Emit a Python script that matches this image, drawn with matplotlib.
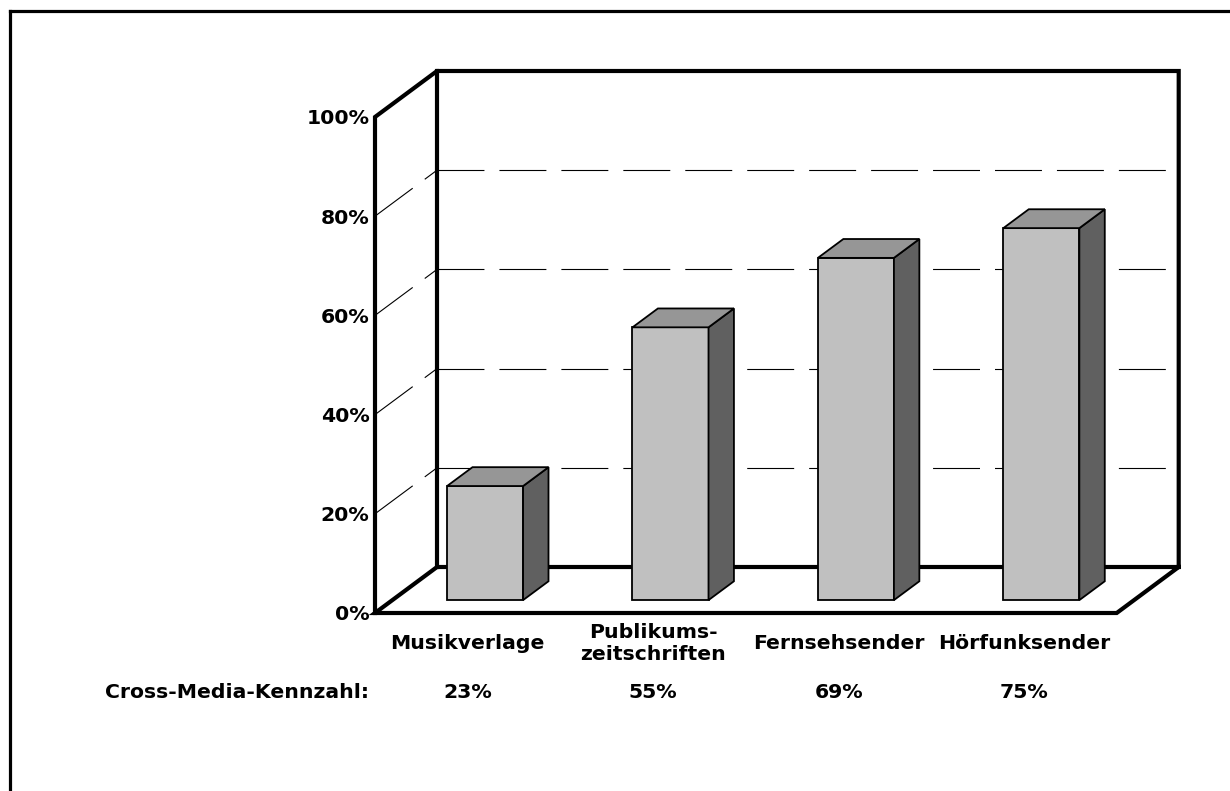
import matplotlib
matplotlib.use('Agg')
import matplotlib.pyplot as plt
from matplotlib.lines import Line2D
from matplotlib.patches import Polygon

# data
categories = ['Musikverlage', 'Publikums-\nzeitschriften', 'Fernsehsender', 'Hörfunksender']
values = [23, 55, 69, 75]
kennzahl = ['23%', '55%', '69%', '75%']
yticks = [0, 20, 40, 60, 80, 100]

plt.rcParams['font.family'] = ['DejaVu Sans']
plt.rcParams['font.weight'] = 'bold'
plt.rcParams['lines.scale_dashes'] = False
FS = 14.7

W, H = 1230, 791
fig = plt.figure(figsize=(W / 100, H / 100), dpi=100)
fig.patch.set_facecolor('white')

# front plane of the 3d box in pixels
ax = fig.add_axes([375 / W, (H - 613) / H, 741.7 / W, 496 / H])
ax.set_xlim(0, 4)
ax.set_ylim(0, 100)
for s in ax.spines.values():
    s.set_visible(False)
ax.patch.set_visible(False)

# oblique depth offset (data units for a full depth)
OX = 62 / 185.4
OY = 46 / 4.96

def P(x, y, d):
    return x + d * OX, y + d * OY

frame_kw = dict(color='black', lw=3.0, clip_on=False, solid_joinstyle='miter',
                solid_capstyle='projecting', zorder=2)
grid_kw = dict(color='black', lw=0.8, clip_on=False, zorder=1, dashes=(33.8, 10.8))

# gridlines on back wall and side wall
for v in yticks[1:-1]:
    bx0, by0 = P(0, v, 1)
    bx1, by1 = P(4, v, 1)
    ax.plot([bx0, bx1], [by0, by1], **grid_kw)
    ax.plot([0, bx0], [v, by0], **grid_kw)

# box frame
pts = [P(0, 0, 0), P(0, 100, 0), P(0, 100, 1), P(4, 100, 1), P(4, 0, 1), P(4, 0, 0), P(0, 0, 0), P(0, 0, 1), P(4, 0, 1)]
ax.plot([p[0] for p in pts], [p[1] for p in pts], **frame_kw)
pts = [P(0, 0, 1), P(0, 100, 1)]
ax.plot([p[0] for p in pts], [p[1] for p in pts], **frame_kw)

# bars
d0, d1 = 0.28, 0.69
bw = 76 / 185.4
xs = [i + 0.5 for i in range(len(values))]
fx = [P(x, 0, d0)[0] for x in xs]
ax.bar(fx, values, width=bw, bottom=d0 * OY, color='#C0C0C0', edgecolor='black',
       linewidth=1.3, zorder=3, clip_on=False)
dd = d1 - d0
for x, v in zip(fx, values):
    xl, xr = x - bw / 2, x + bw / 2
    y0, y1 = d0 * OY, d0 * OY + v
    side = [(xr, y0), (xr + dd * OX, y0 + dd * OY), (xr + dd * OX, y1 + dd * OY), (xr, y1)]
    top = [(xl, y1), (xr, y1), (xr + dd * OX, y1 + dd * OY), (xl + dd * OX, y1 + dd * OY)]
    ax.add_patch(Polygon(side, closed=True, facecolor='#606060', edgecolor='black',
                         lw=1.3, zorder=3, clip_on=False))
    ax.add_patch(Polygon(top, closed=True, facecolor='#969696', edgecolor='black',
                         lw=1.3, zorder=3, clip_on=False))

# ticks
ax.set_yticks(yticks)
ax.set_yticklabels([f'{v}%' for v in yticks], fontsize=FS, fontweight='bold')
ax.set_xticks(xs)
ax.set_xticklabels(categories, fontsize=FS, fontweight='bold', linespacing=1.25)
ax.tick_params(axis='y', length=0, pad=4)
ax.tick_params(axis='x', length=0, pad=22)
for lbl in ax.get_xticklabels():
    lbl.set_verticalalignment('center')

# cross-media row
ky = -16.1
ax.text(-0.03, ky, 'Cross-Media-Kennzahl:', ha='right', va='center', fontsize=FS,
        fontweight='bold', clip_on=False)
for x, t in zip(xs, kennzahl):
    ax.text(x, ky, t, ha='center', va='center', fontsize=FS, fontweight='bold', clip_on=False)

# outer frame (only top and left visible)
fig.add_artist(Line2D([9.5 / W, 9.5 / W], [-0.01, 1 - 10.5 / H], color='black', lw=2.3,
                      transform=fig.transFigure, solid_capstyle='projecting'))
fig.add_artist(Line2D([9.5 / W, 1.01], [1 - 10.5 / H, 1 - 10.5 / H], color='black', lw=2.3,
                      transform=fig.transFigure, solid_capstyle='projecting'))

fig.savefig('out.png', dpi=100, facecolor='white')
